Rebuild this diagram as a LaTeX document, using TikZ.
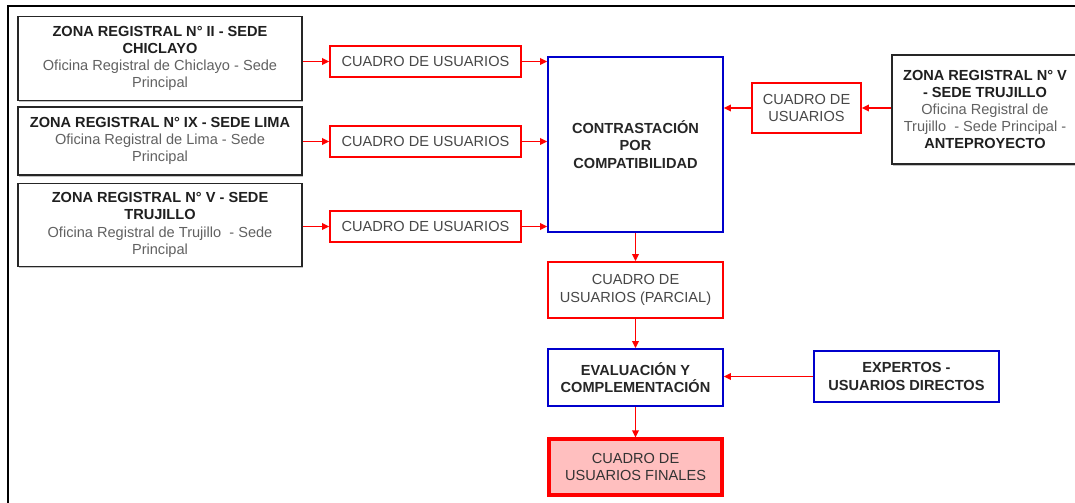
\documentclass[tikz,border=0pt]{standalone}
\usepackage{fontspec}
\setmainfont{Liberation Sans}
\usetikzlibrary{arrows.meta,shadows}

\newcommand{\zsub}[1]{{\color{black!62}#1}}

\begin{document}
\begin{tikzpicture}[x=0.02cm,y=-0.02cm,
    zonebox/.style={draw=black!85, line width=1pt, fill=white, align=center,
      inner sep=1pt, font=\fontsize{8.3}{9.8}\selectfont, text=black!88,
      drop shadow={shadow xshift=0.4pt, shadow yshift=-0.9pt, fill=black!40, opacity=0.6}},
    cuadrobox/.style={draw=red, line width=0.95pt, fill=white, align=center,
      inner sep=1pt, font=\fontsize{8.3}{9.8}\selectfont, text=black!72},
    procbox/.style={draw=blue!80!black, line width=0.95pt, fill=white, align=center,
      inner sep=1pt, font=\fontsize{8.3}{9.8}\selectfont\bfseries, text=black!85},
    finalbox/.style={draw=red, line width=1.8pt, fill=red!25, align=center,
      inner sep=1pt, font=\fontsize{8.3}{9.8}\selectfont, text=black!80},
    flecha/.style={draw=red, line width=1.05pt, -{Triangle[length=1.4mm,width=1.3mm]}}]

    % Page is 1075 x 503 px, one unit = one pixel, y grows downward.
    \useasboundingbox (0,0) rectangle (1075,503);
    \clip (0,0) rectangle (1075,503);
    \draw[line width=1.1pt, black] (8,520) -- (8,6) -- (1100,6);

    % Sources on the left
    \node[zonebox, minimum width=5.68cm, minimum height=1.68cm] (zona2) at (160,58.5)
      {\textbf{ZONA REGISTRAL N° II - SEDE}\\\textbf{CHICLAYO}\\
       \zsub{Oficina Registral de Chiclayo - Sede}\\\zsub{Principal}};
    \node[zonebox, minimum width=5.68cm, minimum height=1.36cm] (zona9) at (160,141)
      {\textbf{ZONA REGISTRAL N° IX - SEDE LIMA}\\
       \zsub{Oficina Registral de Lima - Sede}\\\zsub{Principal}};
    \node[zonebox, minimum width=5.68cm, minimum height=1.66cm] (zona5) at (160,225)
      {\textbf{ZONA REGISTRAL N° V - SEDE}\\\textbf{TRUJILLO}\\
       \zsub{Oficina Registral de Trujillo\ \ - Sede}\\\zsub{Principal}};

    \node[cuadrobox, minimum width=3.82cm, minimum height=0.62cm] (cuadro1) at (425.5,61.5) {CUADRO DE USUARIOS};
    \node[cuadrobox, minimum width=3.82cm, minimum height=0.62cm] (cuadro2) at (425.5,141.5) {CUADRO DE USUARIOS};
    \node[cuadrobox, minimum width=3.82cm, minimum height=0.62cm] (cuadro3) at (425.5,226.5) {CUADRO DE USUARIOS};

    % Central column
    \node[procbox, minimum width=3.5cm, minimum height=3.5cm] (contraste) at (635.5,144.5)
      {CONTRASTACIÓN\\POR\\COMPATIBILIDAD};
    \node[cuadrobox, minimum width=3.5cm, minimum height=1.12cm] (parcial) at (635.5,290)
      {CUADRO DE\\USUARIOS (PARCIAL)};
    \node[procbox, minimum width=3.5cm, minimum height=1.14cm] (evalua) at (635.5,377.5)
      {EVALUACIÓN Y\\COMPLEMENTACIÓN};
    \node[finalbox, minimum width=3.46cm, minimum height=1.12cm] (finales) at (635.5,467)
      {CUADRO DE\\USUARIOS FINALES};

    % Right side
    \node[zonebox, minimum width=3.72cm, minimum height=2.18cm] (antepro) at (985,109.5)
      {\textbf{ZONA REGISTRAL N° V}\\\textbf{- SEDE TRUJILLO}\\
       \zsub{Oficina Registral de}\\\zsub{Trujillo\ \ - Sede Principal -}\\\textbf{ANTEPROYECTO}};
    \node[cuadrobox, minimum width=2.18cm, minimum height=1.0cm] (cuadro4) at (806.5,108)
      {CUADRO DE\\USUARIOS};
    \node[procbox, minimum width=3.7cm, minimum height=1.02cm] (expertos) at (906.5,376.5)
      {EXPERTOS -\\USUARIOS DIRECTOS};

    % Connectors
    \draw[flecha] (cuadro1.west -| zona2.east) -- (cuadro1.west);
    \draw[flecha] (cuadro2.west -| zona9.east) -- (cuadro2.west);
    \draw[flecha] (cuadro3.west -| zona5.east) -- (cuadro3.west);
    \draw[flecha] (cuadro1.east) -- (cuadro1.east -| contraste.west);
    \draw[flecha] (cuadro2.east) -- (cuadro2.east -| contraste.west);
    \draw[flecha] (cuadro3.east) -- (cuadro3.east -| contraste.west);
    \draw[flecha] (antepro.west |- cuadro4.east) -- (cuadro4.east);
    \draw[flecha] (cuadro4.west) -- (cuadro4.west -| contraste.east);
    \draw[flecha] (contraste.south) -- (parcial.north);
    \draw[flecha] (parcial.south) -- (evalua.north);
    \draw[flecha] (expertos.west) -- (expertos.west -| evalua.east);
    \draw[flecha] (evalua.south) -- (finales.north);
  \end{tikzpicture}
\end{document}
